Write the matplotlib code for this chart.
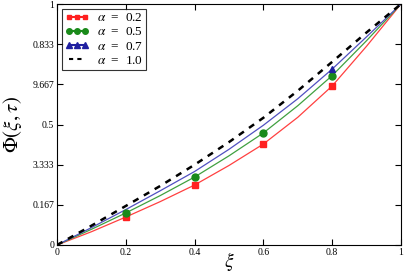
import matplotlib
matplotlib.use("Agg")
import matplotlib.pyplot as plt
from matplotlib.lines import Line2D

plt.rcParams['font.family'] = ['Liberation Serif', 'DejaVu Serif']
plt.rcParams['mathtext.fontset'] = 'stix'

xi = [0, 0.1, 0.2, 0.3, 0.4, 0.5, 0.6, 0.7, 0.8, 0.9, 1.0]
phi_02 = [0, 0.055, 0.116, 0.18, 0.249, 0.33, 0.419, 0.53, 0.66, 0.825, 1.0]
phi_05 = [0, 0.065, 0.133, 0.205, 0.282, 0.37, 0.465, 0.578, 0.703, 0.848, 1.0]
phi_07 = [0, 0.072, 0.147, 0.225, 0.305, 0.397, 0.497, 0.607, 0.730, 0.864, 1.0]
phi_10 = [0, 0.08, 0.162, 0.245, 0.333, 0.427, 0.528, 0.64, 0.760, 0.882, 1.0]

mk_02_x = [0.2, 0.4, 0.6, 0.8]
mk_02_y = [0.116, 0.249, 0.419, 0.66]
mk_05_x = [0.2, 0.4, 0.6, 0.8]
mk_05_y = [0.133, 0.282, 0.465, 0.703]
mk_07_x = [0.8]
mk_07_y = [0.730]

yticks = [0, 0.167, 0.333, 0.5, 0.667, 0.833, 1]
yticklabels = ["0", "0.167", "3.333", "0.5", "9.667", "0.833", "1"]
xticks = [0, 0.2, 0.4, 0.6, 0.8, 1]
xticklabels = ["0", "0.2", "0.4", "0.6", "0.8", "1"]

fig = plt.figure(figsize=(4.06, 2.73), dpi=100)
ax = fig.add_axes([57/406, 1-245/273, 344/406, 241/273])

red, green, blue = '#ff2020', '#1a8a1a', '#2020a0'
ax.plot(xi, phi_02, color='#ff4040', lw=0.9)
ax.plot(xi, phi_05, color='#40a040', lw=0.9)
ax.plot(xi, phi_07, color='#5050c0', lw=0.9)
ax.plot(xi, phi_10, color='black', lw=1.8, ls=(0, (2.5, 2.5)))
ax.plot(mk_02_x, mk_02_y, ls='none', marker='s', ms=4.5, color=red)
ax.plot(mk_05_x, mk_05_y, ls='none', marker='o', ms=5, color=green)
ax.plot(mk_07_x, mk_07_y, ls='none', marker='^', ms=5, color=blue)

handles = [
    Line2D([], [], color=red, marker='s', ms=3.5, lw=1.5),
    Line2D([], [], color=green, marker='o', ms=4, lw=1.5),
    Line2D([], [], color=blue, marker='^', ms=4, lw=1.5),
    Line2D([], [], color='black', lw=1.5, ls=(0, (2, 2))),
]
labels = [r'$\alpha$  =  0.2', r'$\alpha$  =  0.5', r'$\alpha$  =  0.7', r'$\alpha$  =  1.0']
leg = ax.legend(handles, labels, loc='upper left', fontsize=9.5, frameon=True,
                fancybox=False, edgecolor='black', handlelength=1.8, numpoints=3,
                borderaxespad=0.35, labelspacing=0.15, handletextpad=0.6,
                borderpad=0.25)
leg.get_frame().set_linewidth(0.8)

ax.set_xlim(0, 1)
ax.set_ylim(0, 1)
ax.set_xticks(xticks)
ax.set_xticklabels(xticklabels)
ax.set_yticks(yticks)
ax.set_yticklabels(yticklabels)
ax.tick_params(direction='in', top=True, right=True, labelsize=7, length=4, width=0.8, pad=2)
for s in ax.spines.values():
    s.set_linewidth(0.8)

ax.set_xlabel(r'$\xi$', fontsize=14, labelpad=-5)
ax.set_ylabel(r'$\Phi(\xi,\tau)$', fontsize=15, labelpad=6)

fig.savefig('out.png', dpi=100)
